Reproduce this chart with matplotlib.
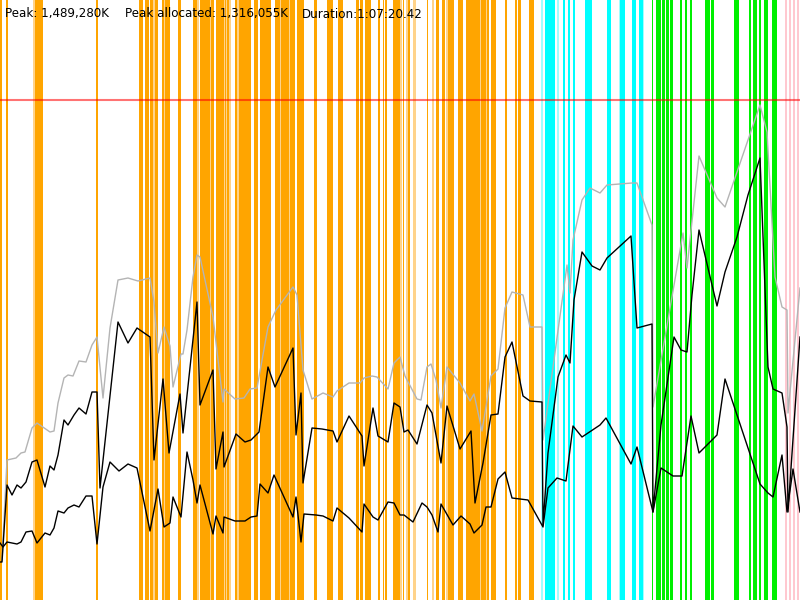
import matplotlib
matplotlib.use("Agg")
import matplotlib.pyplot as plt

# ---- summary text ----
peak_text = "Peak: 1,489,280K"
alloc_text = "Peak allocated: 1,316,055K"
dur_text = "Duration:1:07:20.42"

# ---- reference level (red line) ----
limit_level = 100

# ---- event intervals (time axis) ----
orange_spans = [(0, 2), (6, 7.5), (35, 43), (96, 97.5), (139, 143), (145, 149), (149.5, 153),
                (155, 157.5), (162, 164), (165, 170), (178, 181), (193, 197),
                (200, 214), (216, 229), (235, 237), (239, 251), (254, 258), (260, 271),
                (275, 295), (297, 304), (314, 317), (327, 333), (338, 343), (356, 359),
                (360, 363), (365, 371), (378, 380), (383, 384), (385, 387), (393, 400),
                (403, 404), (408, 410), (427, 428), (436, 439), (442, 445), (448, 450),
                (450, 454), (458, 463), (466, 489), (491, 496), (505, 507), (515, 517),
                (518, 521), (529, 534)]
light_orange_spans = [(33, 35), (153, 155), (164, 165), (197, 199), (202.5, 203.3), (210, 210.8),
                      (220.5, 221.3), (224, 224.6), (226, 226.6), (229, 231), (237, 239),
                      (241.5, 242.3), (280, 280.8), (289, 289.8), (400, 401.5), (406, 407.5),
                      (413, 416), (432, 434), (446, 448), (471.5, 472.3), (480, 480.8),
                      (486, 486.8)]
cyan_spans = [(545, 555), (563, 565), (568, 570), (573, 575), (585, 592), (607, 611),
              (620, 625), (632, 636), (639, 643)]
light_cyan_spans = [(541, 543), (557, 559), (619, 620), (643, 644)]
green_spans = [(652, 653), (656, 660.5), (661.5, 664.5), (665.5, 668.5), (669.5, 673),
               (680, 682), (685, 687), (690, 692), (705, 710), (711, 714), (734, 739),
               (749, 751), (753, 757), (759, 761), (764, 768), (772, 777)]
pink_spans = [(785, 787), (789, 791), (793, 795), (797, 799)]

# ---- series: (time, level) ; level measured downward from top ----
grey_x = [2, 7, 16, 21, 25, 32, 37, 50, 54, 58, 64, 68, 73, 79, 86, 92, 97, 103, 110, 118, 128,
          138, 150, 154, 158, 164, 170, 173, 181, 183, 187, 193, 197, 200, 213, 223, 224, 235,
          244, 250, 257, 268, 276, 293, 297, 303, 312, 323, 333, 337, 349, 360, 364, 372, 377,
          388, 394, 400, 405, 417, 421, 427, 431, 436, 441, 447, 460, 470, 474, 482, 491, 498,
          505, 512, 523, 530, 542, 543, 567, 570, 573, 582, 590, 600, 607, 632, 637, 652, 653,
          683, 687, 699, 717, 725, 760, 767, 775, 782, 787, 788, 800]
grey_y = [560, 460, 458, 453, 452, 428, 423, 432, 431, 403, 378, 375, 376, 361, 362, 345, 337,
          398, 328, 280, 278, 281, 278, 302, 353, 327, 346, 387, 354, 354, 330, 277, 255, 257,
          317, 402, 389, 399, 398, 389, 388, 327, 310, 287, 295, 370, 399, 393, 397, 391, 383,
          383, 378, 376, 377, 389, 363, 357, 376, 399, 400, 367, 364, 380, 408, 367, 383, 401,
          394, 431, 376, 369, 308, 292, 295, 327, 327, 440, 265, 293, 240, 200, 188, 193, 185,
          183, 183, 225, 407, 233, 268, 156, 198, 207, 105, 132, 277, 307, 310, 413, 288]

upper_x = [0, 2, 7, 12, 17, 21, 26, 32, 37, 45, 50, 54, 58, 64, 68, 74, 79, 86, 92, 97, 100, 118,
           128, 137, 150, 154, 163, 169, 180, 183, 197, 200, 213, 216, 223, 224, 236, 245, 251,
           259, 268, 275, 293, 296, 301, 303, 312, 322, 333, 337, 349, 362, 364, 373, 378, 388,
           394, 400, 404, 408, 417, 427, 432, 441, 447, 460, 471, 475, 483, 491, 498, 505, 512,
           523, 530, 542, 543, 548, 558, 566, 570, 574, 582, 592, 600, 607, 631, 637, 652, 653,
           661, 674, 681, 687, 692, 699, 717, 725, 737, 748, 760, 768, 773, 782, 787, 788, 800]
upper_y = [562, 562, 485, 495, 485, 488, 482, 462, 460, 487, 466, 470, 455, 420, 425, 415, 408,
           414, 392, 392, 488, 322, 343, 328, 337, 460, 379, 453, 394, 433, 302, 405, 370, 469,
           432, 467, 434, 442, 440, 432, 367, 387, 348, 435, 393, 483, 428, 429, 431, 442, 416,
           436, 466, 408, 436, 442, 403, 407, 432, 430, 444, 405, 413, 463, 406, 449, 431, 503,
           463, 415, 414, 357, 342, 396, 401, 402, 525, 453, 377, 355, 363, 300, 252, 266, 270,
           258, 236, 328, 324, 512, 425, 337, 350, 352, 295, 230, 306, 272, 237, 195, 158, 367,
           389, 393, 427, 512, 337]

lower_x = [0, 3, 7, 12, 17, 21, 26, 32, 37, 45, 50, 54, 58, 64, 68, 74, 79, 86, 92, 97, 103, 110,
           119, 128, 137, 150, 158, 164, 170, 173, 181, 187, 193, 197, 200, 213, 216, 223, 224,
           235, 245, 251, 257, 260, 268, 274, 293, 296, 301, 304, 316, 323, 333, 337, 349, 362,
           364, 373, 378, 388, 394, 400, 404, 413, 422, 427, 432, 438, 441, 453, 461, 470, 474,
           482, 486, 491, 498, 505, 512, 528, 543, 548, 557, 566, 573, 582, 600, 606, 631, 637,
           653, 661, 673, 682, 691, 699, 717, 725, 760, 768, 773, 782, 787, 793, 800]
lower_y = [543, 547, 542, 543, 544, 542, 532, 531, 543, 533, 535, 528, 511, 513, 508, 505, 507,
           496, 496, 544, 487, 462, 471, 464, 468, 531, 489, 527, 523, 497, 517, 452, 480, 503,
           485, 534, 516, 533, 517, 521, 521, 517, 516, 484, 493, 475, 517, 497, 542, 514, 515,
           516, 521, 508, 518, 532, 504, 517, 520, 502, 503, 515, 515, 522, 503, 507, 515, 532,
           504, 525, 516, 524, 533, 525, 507, 507, 479, 472, 498, 500, 527, 488, 478, 481, 426,
           437, 425, 418, 464, 447, 512, 468, 476, 476, 416, 453, 435, 379, 484, 493, 497, 455,
           512, 469, 512]

fig = plt.figure(figsize=(8, 6), dpi=100)
ax = fig.add_axes([0, 0, 1, 1])
ax.set_xlim(0, 800)
ax.set_ylim(600, 0)
ax.axis("off")

def spans(lst, color):
    for a, b in lst:
        ax.axvspan(a, b, color=color, lw=0)

spans(orange_spans, "#FFA500")
spans(light_orange_spans, "#FFD38A")
spans(cyan_spans, "#00FFFF")
spans(light_cyan_spans, "#A0FFFF")
spans(green_spans, "#00F000")
spans(pink_spans, "#FFC8D0")

ax.axhline(limit_level, color="#FF0000", alpha=0.55, lw=1.5)

ax.plot(grey_x, grey_y, color="#B4B4B4", lw=1.0)
ax.plot(upper_x, upper_y, color="black", lw=1.0)
ax.plot(lower_x, lower_y, color="black", lw=1.0)

tk = dict(fontsize=8.6, color="black", va="baseline", ha="left", family="DejaVu Sans")
ax.text(5, 17.5, peak_text, **tk)
ax.text(125, 17.5, alloc_text, **tk)
ax.text(302, 17.5, dur_text, **tk)

fig.savefig("out.png", dpi=100)
